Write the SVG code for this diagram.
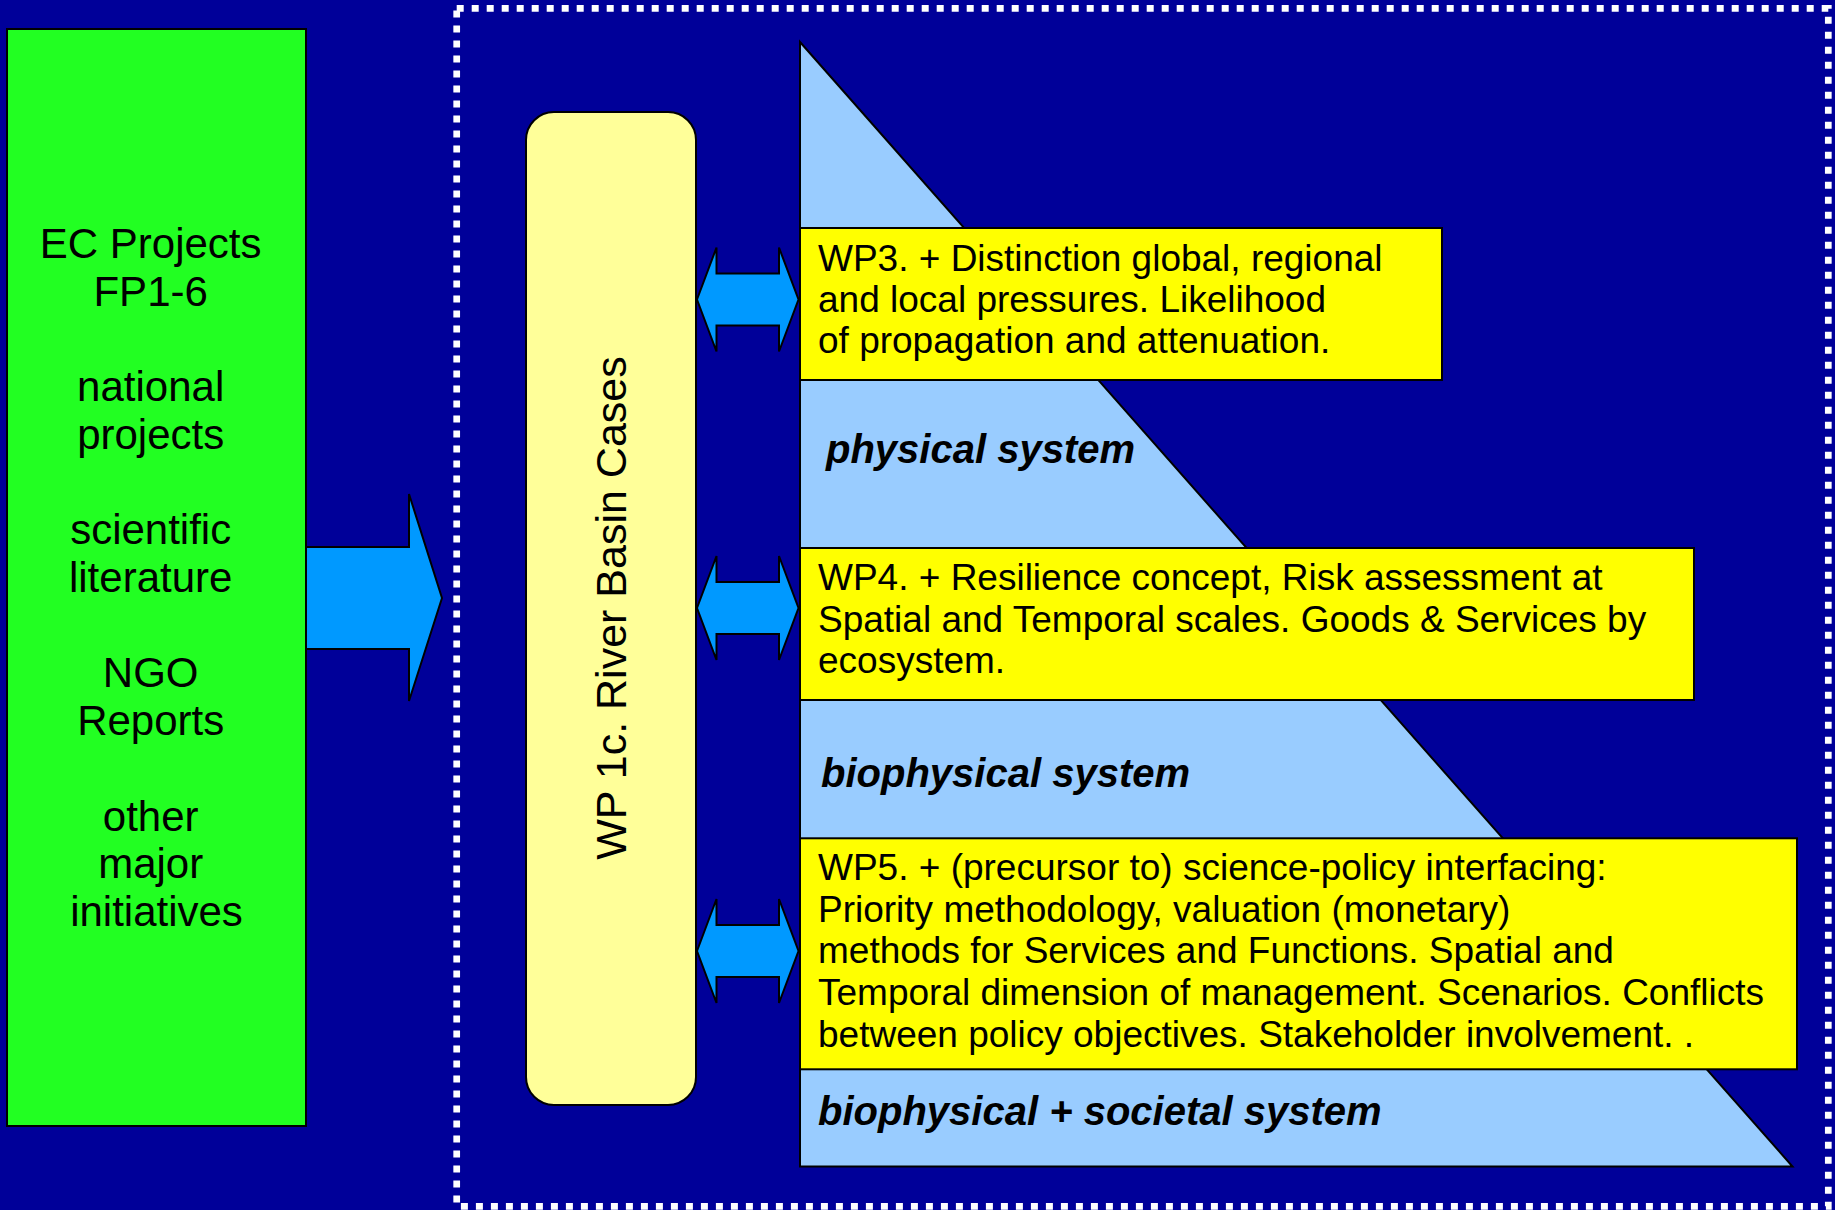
<svg xmlns="http://www.w3.org/2000/svg" xmlns:xlink="http://www.w3.org/1999/xlink" width="1835" height="1210" viewBox="0 0 1835 1210">
  <style>
    .txt { font-family: "Liberation Sans", Arial, sans-serif; fill: #000; }
    .src { font-size: 42px; text-anchor: middle; }
    .wp { font-size: 37px; }
    .sys { font-size: 40px; font-weight: bold; font-style: italic; }
    .edge { stroke: #000; stroke-width: 2; stroke-linejoin: miter; }
    .arrow { fill: #0099ff; stroke: #000; stroke-width: 2; }
  </style>
  <defs>
    <!-- two-headed arrow, centred vertically on y=0 -->
    <polygon id="dbl" points="697,0 716.5,-52 716.5,-26 779,-26 779,-52 798.5,0 779,52 779,26 716.5,26 716.5,52"/>
  </defs>

  <!-- background -->
  <rect x="0" y="0" width="1835" height="1210" fill="#000099"/>

  <!-- dotted frame around the work-package area -->
  <rect x="456.7" y="8.3" width="1371.6" height="1198" fill="none" stroke="#ffffff" stroke-width="6.7" stroke-dasharray="7 8"/>

  <!-- information sources -->
  <g id="sources">
    <rect class="edge" x="7" y="29" width="299" height="1097" fill="#22ff22"/>
    <text class="txt src">
      <tspan x="156.5" y="258">EC Projects</tspan>
      <tspan x="156.5" y="305.7">FP1-6</tspan>
      <tspan x="156.5" y="401">national</tspan>
      <tspan x="156.5" y="448.8">projects</tspan>
      <tspan x="156.5" y="544.2">scientific</tspan>
      <tspan x="156.5" y="592">literature</tspan>
      <tspan x="156.5" y="687.4">NGO</tspan>
      <tspan x="156.5" y="735.1">Reports</tspan>
      <tspan x="156.5" y="830.5">other</tspan>
      <tspan x="156.5" y="878.2">major</tspan>
      <tspan x="156.5" y="925.9">initiatives</tspan>
    </text>
  </g>

  <!-- river basin cases -->
  <g id="wp1c">
    <rect class="edge" x="526" y="112" width="170" height="993" rx="28" ry="28" fill="#ffff99"/>
    <text class="txt" font-size="43" text-anchor="middle" transform="translate(625.5,608) rotate(-90)">WP 1c. River Basin Cases</text>
  </g>

  <!-- system triangle -->
  <g id="systems">
    <polygon class="edge" points="800,42 1792.5,1166.5 800,1166.5" fill="#99ccff"/>
    <text class="txt sys" x="826" y="463">physical system</text>
    <text class="txt sys" x="821" y="787">biophysical system</text>
    <text class="txt sys" x="818" y="1125">biophysical + societal system</text>
  </g>

  <g id="wp3">
    <rect class="edge" x="800" y="228" width="642" height="152" fill="#ffff00"/>
    <text class="txt wp">
      <tspan x="818" y="270.7">WP3. + Distinction global, regional</tspan>
      <tspan x="818" y="312">and local pressures. Likelihood</tspan>
      <tspan x="818" y="353.3">of propagation and attenuation.</tspan>
    </text>
  </g>

  <g id="wp4">
    <rect class="edge" x="800" y="548" width="894" height="152" fill="#ffff00"/>
    <text class="txt wp">
      <tspan x="818" y="590">WP4. + Resilience concept, Risk assessment at</tspan>
      <tspan x="818" y="631.5">Spatial and Temporal scales. Goods &amp; Services by</tspan>
      <tspan x="818" y="673.3">ecosystem.</tspan>
    </text>
  </g>

  <g id="wp5">
    <rect class="edge" x="800" y="838.3" width="997" height="231" fill="#ffff00"/>
    <text class="txt wp">
      <tspan x="818" y="880">WP5. + (precursor to) science-policy interfacing:</tspan>
      <tspan x="818" y="921.7">Priority methodology, valuation (monetary)</tspan>
      <tspan x="818" y="963.3">methods for Services and Functions. Spatial and</tspan>
      <tspan x="818" y="1005">Temporal dimension of management. Scenarios. Conflicts</tspan>
      <tspan x="818" y="1046.7">between policy objectives. Stakeholder involvement. .</tspan>
    </text>
  </g>

  <!-- connectors -->
  <g id="connectors">
    <polygon class="arrow" points="306,547 409,547 409,494 442,598 409,701 409,649 306,649"/>
    <use xlink:href="#dbl" href="#dbl" class="arrow" transform="translate(0,299.5)"/>
    <use xlink:href="#dbl" href="#dbl" class="arrow" transform="translate(0,608)"/>
    <use xlink:href="#dbl" href="#dbl" class="arrow" transform="translate(0,951)"/>
  </g>
</svg>
